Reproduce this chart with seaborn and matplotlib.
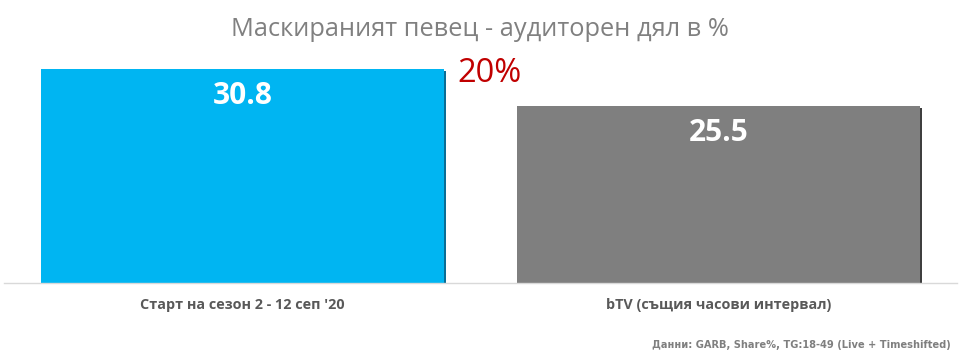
import matplotlib
matplotlib.use("Agg")
import matplotlib.pyplot as plt
import matplotlib.patheffects as pe
import seaborn as sns
import pandas as pd

categories = ["Старт на сезон 2 - 12 сеп '20", "bTV (същия часови интервал)"]
values = [30.8, 25.5]
colors = ["#00B5F2", "#7F7F7F"]
shadow_colors = ["#0A6E96", "#3F3F3F"]
title = "Маскираният певец - аудиторен дял в %"
highlight = "20%"
footer = "Данни: GARB, Share%, TG:18-49 (Live + Timeshifted)"

sns.set_theme(style="white")
plt.rcParams["font.family"] = ["Open Sans", "DejaVu Sans"]

df = pd.DataFrame({"cat": categories, "val": values})

fig = plt.figure(figsize=(9.6, 3.61), dpi=100)
ax = fig.add_axes([4 / 960, 1 - 283 / 361, 953 / 960, (283 - 39.7) / 361])

sns.barplot(data=df, x="cat", y="val", hue="cat", palette=colors,
            width=0.845, ax=ax, legend=False, saturation=1)

for patch, sc in zip(ax.patches, shadow_colors):
    patch.set_path_effects([pe.SimplePatchShadow(offset=(1.5, -1.5), shadow_rgbFace=sc, alpha=1), pe.Normal()])
    patch.set_edgecolor("none")

for i, v in enumerate(values):
    ax.annotate(f"{v:.1f}", xy=(i, v), xytext=(0, -27), textcoords="offset pixels",
                ha="center", va="center", color="white", fontsize=21.5, fontweight="bold")

ax.set_xlim(-0.5, 1.5)
ax.set_ylim(0, 35)
ax.set_xlabel("")
ax.set_ylabel("")
ax.set_yticks([])
for s in ["top", "right", "left"]:
    ax.spines[s].set_visible(False)
ax.spines["bottom"].set_color("#D9D9D9")
ax.spines["bottom"].set_linewidth(1)
ax.set_xticks([0, 1])
ax.set_xticklabels(categories, fontsize=10.4, fontweight="bold", color="#595959")
ax.tick_params(axis="x", which="major", length=0, pad=11)
ax.set_xticks([-0.5, 0.5, 1.5], minor=True)
ax.tick_params(axis="x", which="minor", length=6, color="#D9D9D9", width=1, direction="out")

fig.text(0.5, 1 - 30 / 361, title, ha="center", va="center", fontsize=18.3, color="#808080")
fig.text(490 / 960, 1 - 74 / 361, highlight, ha="center", va="center", fontsize=23.5, color="#C00000")
fig.text(951 / 960, 1 - 345 / 361, footer, ha="right", va="center", fontsize=7.1,
         fontweight="bold", color="#7F7F7F", family=["DejaVu Sans"])

fig.savefig("out.png", dpi=100, facecolor="white")
